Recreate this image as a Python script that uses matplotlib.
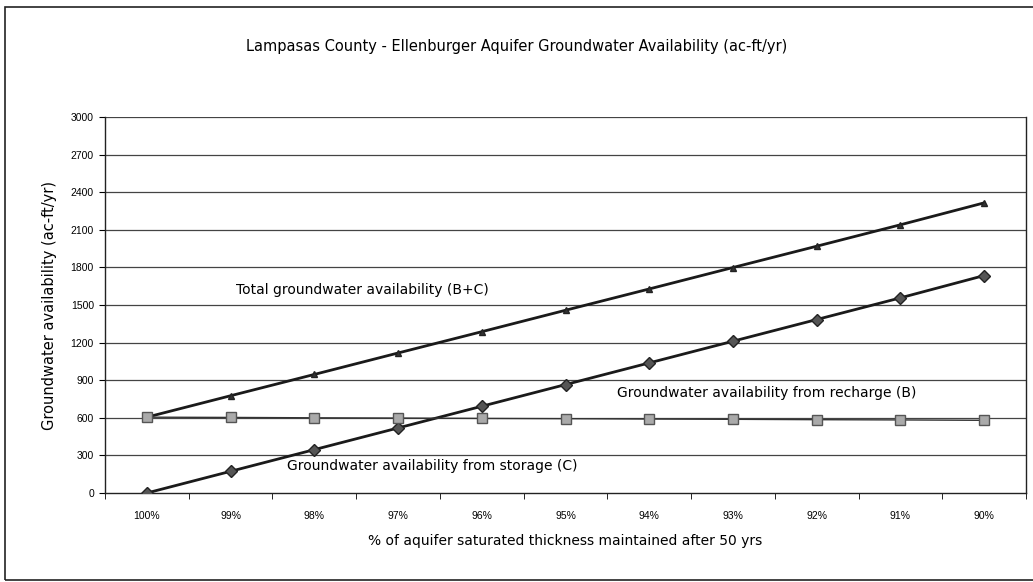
import matplotlib.pyplot as plt
import matplotlib.patches as mpatches
import numpy as np

plt.rcParams['font.family'] = ['DejaVu Sans']

categories = ['100%', '99%', '98%', '97%', '96%', '95%', '94%', '93%', '92%', '91%', '90%']
recharge = [605, 603, 600, 598, 595, 593, 590, 588, 585, 583, 580]
storage = [0, 173, 346, 519, 692, 865, 1038, 1211, 1384, 1557, 1735]
total = [b + c for b, c in zip(recharge, storage)]
y_ticks = [0, 300, 600, 900, 1200, 1500, 1800, 2100, 2400, 2700, 3000]

x = np.arange(len(categories))

fig = plt.figure(figsize=(10.33, 5.82), dpi=100)
ax = fig.add_axes([105 / 1033, 1 - 493 / 582, 921 / 1033, 376 / 582])

# ramka wokol calego wykresu
fig.patches.append(mpatches.Rectangle((5 / 1033, 2 / 582), 1.1, 573 / 582, transform=fig.transFigure,
                                      fill=False, edgecolor='#222222', linewidth=1.2))

for yv in y_ticks[1:]:
    ax.axhline(yv, color='#444444', linewidth=0.9, zorder=1)

ax.plot(x, total, color='#1a1a1a', linewidth=2.0, marker='^', markersize=4,
        markerfacecolor='#333333', markeredgecolor='#222222', zorder=3)
ax.plot(x, storage, color='#1a1a1a', linewidth=2.0, marker='D', markersize=6.5,
        markerfacecolor='#555555', markeredgecolor='#222222', zorder=3)
ax.plot(x, recharge, color='#333333', linewidth=1.0, marker='s', markersize=7,
        markerfacecolor='#aaaaaa', markeredgecolor='#555555', zorder=4)

ax.set_xlim(-0.5, len(categories) - 0.5)
ax.set_ylim(0, 3000)
ax.set_yticks(y_ticks)
ax.set_yticklabels([str(v) for v in y_ticks], fontsize=7.5, family='Liberation Sans')
ax.set_xticks(x)
ax.set_xticklabels(categories, fontsize=7.5, family='Liberation Sans')
ax.set_xticks(np.arange(-0.5, len(categories), 1), minor=True)
ax.tick_params(axis='x', which='major', length=0, pad=13)
ax.tick_params(axis='x', which='minor', length=4, direction='out')
ax.tick_params(axis='y', length=4, direction='out', pad=4)

for side in ['left', 'bottom', 'right']:
    ax.spines[side].set_color('#222222')
    ax.spines[side].set_linewidth(1.0)
ax.spines['top'].set_visible(False)

ax.set_xlabel('% of aquifer saturated thickness maintained after 50 yrs', fontsize=10, labelpad=9)
ax.set_ylabel('Groundwater availability (ac-ft/yr)', fontsize=10.5, labelpad=10)
fig.text(0.5, 1 - 47 / 582, 'Lampasas County - Ellenburger Aquifer Groundwater Availability (ac-ft/yr)',
         ha='center', va='center', fontsize=10.5)

ax.text(1.07, 1620, 'Total groundwater availability (B+C)', fontsize=10, ha='left', va='center')
ax.text(5.62, 800, 'Groundwater availability from recharge (B)', fontsize=10, ha='left', va='center')
ax.text(1.67, 215, 'Groundwater availability from storage (C)', fontsize=10, ha='left', va='center')

fig.savefig('out.png', dpi=100)
